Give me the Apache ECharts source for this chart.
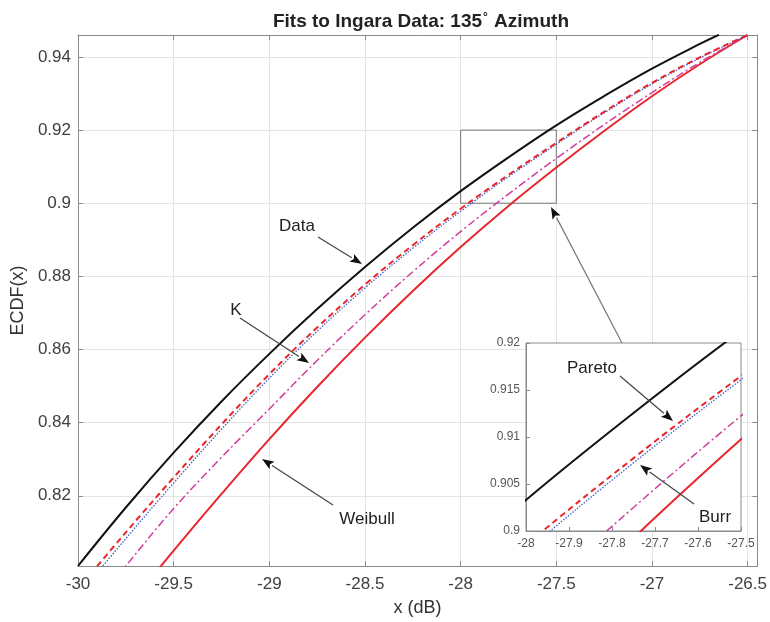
<!DOCTYPE html>
<html lang="en">
<head>
    <meta charset="utf-8"/>
    <title>Fits to Ingara Data</title>
    <script src="https://cdn.jsdelivr.net/npm/echarts@6/dist/echarts.min.js"></script>
    <style>
        html, body { margin: 0; padding: 0; background: #fff; }
        #chart { width: 770px; height: 622px; }
    </style>
</head>
<body>
<div id="chart"></div>
<script>
    // x grids (dB)
    var xData = [-30, -29.75, -29.5, -29.25, -29, -28.75, -28.5, -28.25, -28, -27.75, -27.5, -27.25, -27, -26.75, -26.65];
    var xFit = [-30, -29.75, -29.5, -29.25, -29, -28.75, -28.5, -28.25, -28, -27.75, -27.5, -27.25, -27, -26.75, -26.5];

    // ECDF of the data and the fitted CDFs
    var ecdfData = [0.8008, 0.8168, 0.8318, 0.8458, 0.8588, 0.87105, 0.88255, 0.8933, 0.9033, 0.91255, 0.9213, 0.9293, 0.9368, 0.94355, 0.94605];
    var paretoFit = [0.7945, 0.8100, 0.8250, 0.8395, 0.85325, 0.8660, 0.87775, 0.8885, 0.8985, 0.90775, 0.9165, 0.9250, 0.9329, 0.9399, 0.9460];
    var burrFit = [0.7927, 0.8083, 0.8235, 0.8382, 0.85215, 0.8650, 0.87685, 0.8877, 0.8978, 0.90725, 0.9161, 0.9247, 0.9326, 0.9397, 0.9460];
    var kFit = [0.7845, 0.8008, 0.8165, 0.8305, 0.84375, 0.8570, 0.8695, 0.88125, 0.89225, 0.9025, 0.91225, 0.9215, 0.93025, 0.9385, 0.9460];
    var weibullFit = [0.7725, 0.7890, 0.8050, 0.8205, 0.8355, 0.84975, 0.86325, 0.8760, 0.8880, 0.89925, 0.90975, 0.91975, 0.92925, 0.9380, 0.9460];

    // axis ranges
    var mainX = [-30, -26.45], mainY = [0.8008, 0.946];
    var zoomX = [-28, -27.5], zoomY = [0.9, 0.92];

    function pairs(xs, ys) {
        var out = [];
        for (var i = 0; i < xs.length; i++) out.push([xs[i], ys[i]]);
        return out;
    }

    var curves = [
        {name: 'Data', x: xData, y: ecdfData, color: '#111111', width: 2, type: 'solid'},
        {name: 'Weibull', x: xFit, y: weibullFit, color: '#e8262c', width: 2, type: 'solid'},
        {name: 'K', x: xFit, y: kFit, color: '#d23c9c', width: 1.5, type: [8, 3, 2, 3]},
        {name: 'Burr', x: xFit, y: burrFit, color: '#3f5fc8', width: 1.3, type: [1.5, 1.5]},
        {name: 'Pareto', x: xFit, y: paretoFit, color: '#e8262c', width: 2, type: [6, 4]}
    ];

    var axisGray = '#8a8a8a';
    var font = 'Liberation Sans, Arial, sans-serif';

    var series = [];
    curves.forEach(function (c, i) {
        series.push({
            name: c.name, type: 'line', xAxisIndex: 0, yAxisIndex: 0,
            data: pairs(c.x, c.y), smooth: 0.4, symbol: 'none', z: 2 + i,
            lineStyle: {color: c.color, width: c.width, type: c.type}
        });
        series.push({
            name: c.name + ' (zoom)', type: 'line', xAxisIndex: 2, yAxisIndex: 2,
            data: pairs(c.x, c.y), smooth: 0.4, symbol: 'none', z: 12 + i,
            lineStyle: {color: c.color, width: c.width, type: c.type}
        });
    });
    // zoom box on the main axes
    series[0].markArea = {
        silent: true,
        itemStyle: {color: 'rgba(0,0,0,0)', borderColor: '#777', borderWidth: 1},
        data: [[{coord: [zoomX[0], zoomY[0]]}, {coord: [zoomX[1], zoomY[1]]}]]
    };

    function arrow(x1, y1, x2, y2, lineColor) {
        var a = Math.atan2(y2 - y1, x2 - x1);
        var L = 12, W = 4.5;
        var bx = x2 - L * Math.cos(a), by = y2 - L * Math.sin(a);
        return [{
            type: 'line', z: 100,
            shape: {x1: x1, y1: y1, x2: bx, y2: by},
            style: {stroke: lineColor || '#444', lineWidth: 1.2}
        }, {
            type: 'polygon', z: 100,
            shape: {points: [[x2, y2], [bx + W * Math.sin(a), by - W * Math.cos(a)],
                [bx + 2.5 * Math.cos(a), by + 2.5 * Math.sin(a)], [bx - W * Math.sin(a), by + W * Math.cos(a)]]},
            style: {fill: '#111'}
        }];
    }

    function label(txt, x, y, size) {
        return {
            type: 'text', z: 100, x: x, y: y,
            style: {text: txt, fill: '#222', font: (size || 17) + 'px ' + font, align: 'center', verticalAlign: 'middle'}
        };
    }

    var graphics = [].concat(
        label('Data', 297, 226), arrow(318, 237, 362, 264),
        label('K', 236, 310), arrow(240, 318, 309, 363),
        label('Weibull', 367, 519), arrow(333, 505, 262, 459),
        arrow(622, 343, 551, 207, '#777'),
        label('Pareto', 592, 368), arrow(620, 376, 673, 421),
        label('Burr', 715, 517), arrow(694, 504, 640, 465)
    );

    var myChart = echarts.init(document.getElementById('chart'));
    var option = {
        backgroundColor: '#fff',
        animation: false,
        title: {
            text: '{t|Fits to Ingara Data: 135}{s|°}{t| Azimuth}',
            left: 421, top: 12, padding: 0, textAlign: 'center',
            textStyle: {
                rich: {
                    t: {fontSize: 19, fontWeight: 'bold', color: '#222', fontFamily: font},
                    s: {fontSize: 12, fontWeight: 'bold', color: '#222', fontFamily: font, verticalAlign: 'top', padding: [0, 1, 7, 1]}
                }
            }
        },
        grid: [
            {left: 78, top: 35, right: 10, bottom: 56, show: false},
            {left: 526, top: 343, right: 29, bottom: 91, show: true, z: 8,
                backgroundColor: '#fff', borderColor: axisGray, borderWidth: 1}
        ],
        xAxis: [
            {
                type: 'value', gridIndex: 0, min: mainX[0], max: mainX[1], interval: 0.5,
                name: 'x (dB)', nameLocation: 'middle', nameGap: 33,
                nameTextStyle: {fontSize: 18, color: '#333', fontFamily: font},
                axisLine: {show: true, onZero: false, lineStyle: {color: axisGray}},
                axisTick: {show: true, inside: true, length: 5, lineStyle: {color: axisGray}},
                axisLabel: {fontSize: 17, color: '#404040', fontFamily: font, margin: 10, showMaxLabel: false},
                splitLine: {show: true, lineStyle: {color: '#e4e4e4'}}
            },
            {
                type: 'value', gridIndex: 0, position: 'top', min: mainX[0], max: mainX[1], interval: 0.5,
                axisLine: {show: true, onZero: false, lineStyle: {color: axisGray}},
                axisTick: {show: true, inside: true, length: 5, lineStyle: {color: axisGray}},
                axisLabel: {show: false}, splitLine: {show: false}
            },
            {
                type: 'value', gridIndex: 1, min: zoomX[0], max: zoomX[1], interval: 0.1, z: 9,
                axisLine: {show: true, onZero: false, lineStyle: {color: axisGray}},
                axisTick: {show: true, inside: true, length: 4, lineStyle: {color: axisGray}},
                axisLabel: {fontSize: 12, color: '#555', fontFamily: font, margin: 7},
                splitLine: {show: false}
            }
        ],
        yAxis: [
            {
                type: 'value', gridIndex: 0, min: mainY[0], max: mainY[1], splitNumber: 7,
                name: 'ECDF(x)', nameLocation: 'middle', nameGap: 48, nameRotate: 90,
                nameTextStyle: {fontSize: 18, color: '#333', fontFamily: font},
                axisLine: {show: true, onZero: false, lineStyle: {color: axisGray}},
                axisTick: {show: true, inside: true, length: 5, lineStyle: {color: axisGray}},
                axisLabel: {fontSize: 17, color: '#404040', fontFamily: font, margin: 7,
                    showMinLabel: false, showMaxLabel: false},
                splitLine: {show: true, lineStyle: {color: '#e4e4e4'}}
            },
            {
                type: 'value', gridIndex: 0, position: 'right', min: mainY[0], max: mainY[1], splitNumber: 7,
                axisLine: {show: true, onZero: false, lineStyle: {color: axisGray}},
                axisTick: {show: true, inside: true, length: 5, lineStyle: {color: axisGray}},
                axisLabel: {show: false}, splitLine: {show: false}
            },
            {
                type: 'value', gridIndex: 1, min: zoomY[0], max: zoomY[1], interval: 0.005, z: 9,
                axisLine: {show: true, onZero: false, lineStyle: {color: axisGray}},
                axisTick: {show: true, inside: true, length: 4, lineStyle: {color: axisGray}},
                axisLabel: {fontSize: 12, color: '#555', fontFamily: font, margin: 6},
                splitLine: {show: false}
            }
        ],
        series: series,
        graphic: graphics
    };
    myChart.setOption(option);
</script>
</body>
</html>
